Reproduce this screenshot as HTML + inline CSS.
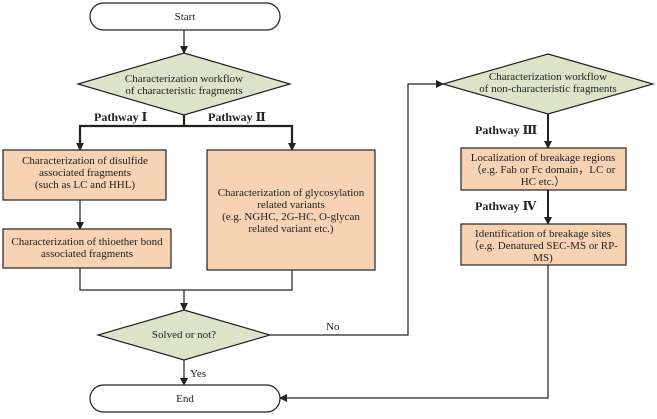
<!DOCTYPE html>
<html><head><style>
body{margin:0;background:#fff;}
text{font-family:"Liberation Serif","DejaVu Serif",serif;font-size:11px;fill:#222;}
.b{font-weight:bold;font-size:12px;}
</style></head><body>
<svg width="657" height="414" viewBox="0 0 657 414" xmlns="http://www.w3.org/2000/svg" font-family="Liberation Serif, serif">
<defs><marker id="a" markerWidth="8" markerHeight="8" refX="7" refY="4" orient="auto" markerUnits="userSpaceOnUse"><path d="M0,0 L8,4 L0,8 z" fill="#222"/></marker></defs>
<g stroke="#222" fill="none" stroke-width="1.2">
<rect x="90" y="3" width="190" height="27" rx="13.5" fill="#fff"/>
<line x1="184" y1="30" x2="184" y2="53" marker-end="url(#a)"/>
<polygon points="184,53 290,84 184,115 78,84" fill="#dde3c8"/>
<polyline points="80,143 80,126 292,126 292,143" stroke-width="2.2"/>
<line x1="184" y1="115" x2="184" y2="126" stroke-width="2.2"/>
<line x1="80" y1="140" x2="80" y2="150" stroke-width="2.2" marker-end="url(#a)"/>
<line x1="292" y1="140" x2="292" y2="150" stroke-width="2.2" marker-end="url(#a)"/>
<rect x="3" y="150" width="163" height="50" fill="#f7d2b3"/>
<rect x="207" y="150" width="168" height="120" fill="#f7d2b3"/>
<line x1="80" y1="200" x2="80" y2="229" marker-end="url(#a)"/>
<rect x="3" y="229" width="168" height="39" fill="#f7d2b3"/>
<polyline points="80,268 80,290 292,290 292,270"/>
<line x1="184" y1="290" x2="184" y2="310" marker-end="url(#a)"/>
<polygon points="184,310 270,335 184,360 98,335" fill="#dde3c8"/>
<polyline points="270,335 408,335 408,84 443,84" marker-end="url(#a)"/>
<polygon points="548,54 653,84 548,114 443,84" fill="#dde3c8"/>
<line x1="548" y1="114" x2="548" y2="148" stroke-width="2" marker-end="url(#a)"/>
<rect x="461" y="148" width="165" height="42" fill="#f7d2b3"/>
<line x1="548" y1="190" x2="548" y2="224" stroke-width="2" marker-end="url(#a)"/>
<rect x="461" y="224" width="165" height="41" fill="#f7d2b3"/>
<polyline points="548,265 548,398 280,398" marker-end="url(#a)"/>
<line x1="184" y1="360" x2="184" y2="385" marker-end="url(#a)"/>
<rect x="90" y="385" width="190" height="27" rx="13.5" fill="#fff"/>
</g>
<text x="185" y="20" text-anchor="middle">Start</text>
<text x="184" y="82" text-anchor="middle">Characterization workflow</text>
<text x="184" y="94" text-anchor="middle">of characteristic fragments</text>
<text x="94" y="121" class="b">Pathway Ⅰ</text>
<text x="208" y="121" class="b">Pathway Ⅱ</text>
<text x="85" y="164" text-anchor="middle">Characterization of disulfide</text>
<text x="85" y="176" text-anchor="middle">associated fragments</text>
<text x="85" y="188" text-anchor="middle">(such as LC and HHL)</text>
<text x="291" y="196" text-anchor="middle">Characterization of glycosylation</text>
<text x="291" y="208" text-anchor="middle">related variants</text>
<text x="291" y="220" text-anchor="middle">(e.g. NGHC, 2G-HC, O-glycan</text>
<text x="291" y="232" text-anchor="middle">related variant etc.)</text>
<text x="87" y="245" text-anchor="middle">Characterization of thioether bond</text>
<text x="87" y="257" text-anchor="middle">associated fragments</text>
<text x="184" y="338" text-anchor="middle">Solved or not?</text>
<text x="326" y="330">No</text>
<text x="190" y="377">Yes</text>
<text x="185" y="402" text-anchor="middle">End</text>
<text x="548" y="80" text-anchor="middle">Characterization workflow</text>
<text x="548" y="92" text-anchor="middle">of non-characteristic fragments</text>
<text x="475" y="134" class="b">Pathway Ⅲ</text>
<text x="543" y="161" text-anchor="middle">Localization of breakage regions</text>
<text x="543" y="173" text-anchor="middle">（e.g. Fab or Fc domain，LC or</text>
<text x="543" y="185" text-anchor="middle">HC etc.）</text>
<text x="475" y="210" class="b">Pathway Ⅳ</text>
<text x="543" y="237" text-anchor="middle">Identification of breakage sites</text>
<text x="543" y="249" text-anchor="middle">（e.g. Denatured SEC-MS or RP-</text>
<text x="543" y="261" text-anchor="middle">MS)</text>
</svg>
</body></html>
